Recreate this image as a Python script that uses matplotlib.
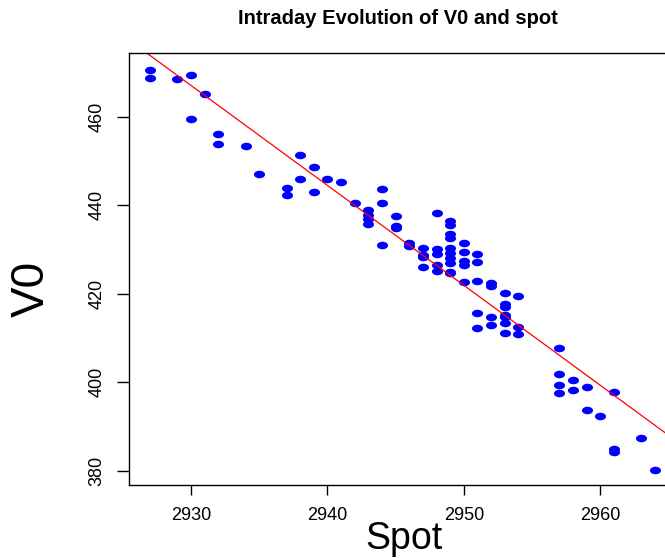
import numpy as np
import matplotlib
matplotlib.use("Agg")
import matplotlib.pyplot as plt
from matplotlib.path import Path

plt.rcParams['font.family'] = ['Liberation Sans', 'DejaVu Sans']

# spot level and V0
spot = [2927, 2927, 2929, 2930, 2930, 2931, 2932, 2932, 2934, 2935,
        2937, 2937, 2938, 2938, 2939, 2939, 2940, 2941, 2942,
        2943, 2943, 2943, 2943, 2944, 2944, 2944, 2945, 2945, 2945,
        2946, 2946, 2947, 2947, 2947, 2947,
        2948, 2948, 2948, 2948, 2948,
        2949, 2949, 2949, 2949, 2949, 2949, 2949, 2949, 2949, 2949,
        2950, 2950, 2950, 2950, 2950,
        2951, 2951, 2951, 2951, 2951,
        2952, 2952, 2952, 2952,
        2953, 2953, 2953, 2953, 2953, 2953, 2953,
        2954, 2954, 2954,
        2957, 2957, 2957, 2957, 2958, 2958, 2959, 2959, 2960,
        2961, 2961, 2961, 2963, 2964]
v0 = [470.6, 468.8, 468.6, 469.4, 459.5, 465.1, 456.0, 453.9, 453.4, 447.1,
      444.0, 442.4, 451.4, 446.0, 448.7, 443.1, 446.0, 445.3, 440.6,
      439.0, 437.9, 436.8, 435.7, 443.7, 440.6, 431.1, 437.6, 435.3, 434.8,
      431.5, 430.8, 430.3, 428.7, 428.2, 426.1,
      438.2, 430.0, 429.0, 426.5, 425.2,
      436.5, 435.5, 433.6, 432.7, 430.4, 429.1, 428.0, 426.9, 425.0, 424.6,
      431.4, 429.5, 427.4, 426.6, 422.7,
      428.9, 427.2, 422.9, 415.7, 412.2,
      422.4, 421.7, 414.8, 412.9,
      420.2, 417.7, 416.9, 415.2, 414.8, 413.4, 411.2,
      419.5, 412.5, 411.0,
      407.8, 401.8, 399.3, 397.6, 400.6, 398.3, 399.0, 393.8, 392.4,
      397.7, 384.9, 384.3, 387.5, 380.2]

x_ticks = [2930, 2940, 2950, 2960]
y_ticks = [380, 400, 420, 440, 460]

fig = plt.figure(figsize=(6.65, 5.58), dpi=100)
ax = fig.add_axes([0.194, 0.131, 0.806, 0.774])

# the original image is stretched sideways, so dots are flat ellipses
circ = Path.unit_circle()
ellipse = Path(circ.vertices * np.array([1.0, 0.68]), circ.codes)

ax.plot(spot, v0, linestyle='none', marker=ellipse, markersize=8,
        color='#0000ff', markeredgewidth=0)

# least squares line
slope, intercept = np.polyfit(spot, v0, 1)
xs = np.array([2920, 2970])
ax.plot(xs, intercept + slope * xs, color='red', linewidth=0.9)

ax.set_xlim(2925.45, 2964.75)
ax.set_ylim(376.8, 474.4)
ax.set_xticks(x_ticks)
ax.set_yticks(y_ticks)
ax.tick_params(axis='x', labelsize=13, length=7, width=1, pad=9)
ax.tick_params(axis='y', labelsize=13, length=9, width=1, pad=8,
               labelrotation=90)
for lab in ax.get_yticklabels():
    lab.set_va('center')
ax.spines['right'].set_visible(False)
for sp in ['left', 'top', 'bottom']:
    ax.spines[sp].set_linewidth(1.0)

fig.text(0.598, 0.967, "Intraday Evolution of V0 and spot", ha='center',
         va='center', fontsize=14.5, fontweight='bold')
fig.text(0.6075, 0.016, "Spot", ha='center', va='baseline', fontsize=27)
fig.text(0.048, 0.483, "V0", ha='center', va='center', fontsize=33,
         rotation=90)

fig.savefig("out.png", dpi=100)
